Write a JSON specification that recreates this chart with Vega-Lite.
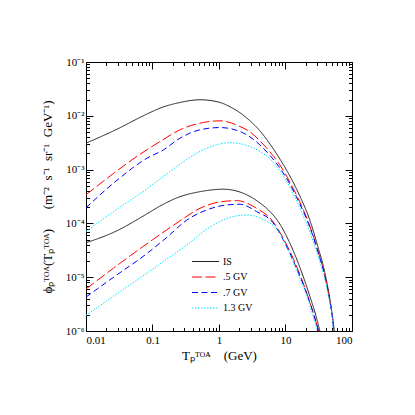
{
  "$schema": "https://vega.github.io/schema/vega-lite/v6.json",
  "width": 266,
  "height": 269,
  "autosize": {"type": "none"},
  "padding": {"left": 86, "top": 62, "right": 63, "bottom": 84},
  "background": "white",
  "view": {"stroke": null},
  "config": {
    "axis": {"domainColor": "black", "tickColor": "black", "labelColor": "black", "titleColor": "black", "labelFont": "Liberation Serif", "titleFont": "Liberation Serif", "labelFontSize": 11, "titleFontSize": 13, "titleFontWeight": "normal", "grid": false, "domainWidth": 1, "tickWidth": 1}
  },
  "data": {"values": [
    {"s": "IS-u", "t": "IS", "x": 0.01, "y": 0.0031},
    {"s": "IS-u", "t": "IS", "x": 0.026, "y": 0.00525},
    {"s": "IS-u", "t": "IS", "x": 0.0822, "y": 0.01076},
    {"s": "IS-u", "t": "IS", "x": 0.1303, "y": 0.0139},
    {"s": "IS-u", "t": "IS", "x": 0.26, "y": 0.0177},
    {"s": "IS-u", "t": "IS", "x": 0.519, "y": 0.01986},
    {"s": "IS-u", "t": "IS", "x": 1.035, "y": 0.0177},
    {"s": "IS-u", "t": "IS", "x": 1.46, "y": 0.01472},
    {"s": "IS-u", "t": "IS", "x": 2.07, "y": 0.01138},
    {"s": "IS-u", "t": "IS", "x": 2.92, "y": 0.00807},
    {"s": "IS-u", "t": "IS", "x": 4.12, "y": 0.00526},
    {"s": "IS-u", "t": "IS", "x": 5.82, "y": 0.00301},
    {"s": "IS-u", "t": "IS", "x": 8.22, "y": 0.00158},
    {"s": "IS-u", "t": "IS", "x": 11.6, "y": 0.000764},
    {"s": "IS-u", "t": "IS", "x": 16.4, "y": 0.000324},
    {"s": "IS-u", "t": "IS", "x": 23.2, "y": 0.0001156},
    {"s": "IS-u", "t": "IS", "x": 30.5, "y": 0.0000379},
    {"s": "IS-u", "t": "IS", "x": 38.9, "y": 0.00001245},
    {"s": "IS-u", "t": "IS", "x": 46.2, "y": 0.00000408},
    {"s": "IS-u", "t": "IS", "x": 51.3, "y": 0.00000173},
    {"s": "IS-u", "t": "IS", "x": 54.1, "y": 0.000001},

    {"s": "R-u", "t": ".5 GV", "x": 0.01, "y": 0.000339},
    {"s": "R-u", "t": ".5 GV", "x": 0.026, "y": 0.000851},
    {"s": "R-u", "t": ".5 GV", "x": 0.0822, "y": 0.00234},
    {"s": "R-u", "t": ".5 GV", "x": 0.1303, "y": 0.00333},
    {"s": "R-u", "t": ".5 GV", "x": 0.26, "y": 0.0055},
    {"s": "R-u", "t": ".5 GV", "x": 0.519, "y": 0.00731},
    {"s": "R-u", "t": ".5 GV", "x": 1.035, "y": 0.00807},
    {"s": "R-u", "t": ".5 GV", "x": 2.07, "y": 0.00632},
    {"s": "R-u", "t": ".5 GV", "x": 2.92, "y": 0.00504},
    {"s": "R-u", "t": ".5 GV", "x": 4.12, "y": 0.00342},
    {"s": "R-u", "t": ".5 GV", "x": 5.82, "y": 0.00214},
    {"s": "R-u", "t": ".5 GV", "x": 8.22, "y": 0.001225},
    {"s": "R-u", "t": ".5 GV", "x": 11.6, "y": 0.00059},
    {"s": "R-u", "t": ".5 GV", "x": 16.4, "y": 0.000251},
    {"s": "R-u", "t": ".5 GV", "x": 23.2, "y": 0.0000895},
    {"s": "R-u", "t": ".5 GV", "x": 30.5, "y": 0.000032},
    {"s": "R-u", "t": ".5 GV", "x": 38.9, "y": 0.00001094},
    {"s": "R-u", "t": ".5 GV", "x": 46.2, "y": 0.00000375},
    {"s": "R-u", "t": ".5 GV", "x": 51.3, "y": 0.00000159},
    {"s": "R-u", "t": ".5 GV", "x": 53.1, "y": 0.000001},

    {"s": "B-u", "t": ".7 GV", "x": 0.01, "y": 0.000195},
    {"s": "B-u", "t": ".7 GV", "x": 0.026, "y": 0.000562},
    {"s": "B-u", "t": ".7 GV", "x": 0.0822, "y": 0.00162},
    {"s": "B-u", "t": ".7 GV", "x": 0.1462, "y": 0.00233},
    {"s": "B-u", "t": ".7 GV", "x": 0.26, "y": 0.00385},
    {"s": "B-u", "t": ".7 GV", "x": 0.519, "y": 0.0055},
    {"s": "B-u", "t": ".7 GV", "x": 1.035, "y": 0.00605},
    {"s": "B-u", "t": ".7 GV", "x": 2.07, "y": 0.0051},
    {"s": "B-u", "t": ".7 GV", "x": 2.92, "y": 0.00406},
    {"s": "B-u", "t": ".7 GV", "x": 4.12, "y": 0.00288},
    {"s": "B-u", "t": ".7 GV", "x": 5.82, "y": 0.001837},
    {"s": "B-u", "t": ".7 GV", "x": 8.22, "y": 0.001076},
    {"s": "B-u", "t": ".7 GV", "x": 11.6, "y": 0.000542},
    {"s": "B-u", "t": ".7 GV", "x": 16.4, "y": 0.00023},
    {"s": "B-u", "t": ".7 GV", "x": 23.2, "y": 0.0000857},
    {"s": "B-u", "t": ".7 GV", "x": 30.5, "y": 0.0000306},
    {"s": "B-u", "t": ".7 GV", "x": 38.9, "y": 0.0000107},
    {"s": "B-u", "t": ".7 GV", "x": 46.2, "y": 0.00000375},
    {"s": "B-u", "t": ".7 GV", "x": 51.3, "y": 0.00000159},
    {"s": "B-u", "t": ".7 GV", "x": 53.1, "y": 0.000001},

    {"s": "C-u", "t": "1.3 GV", "x": 0.01, "y": 0.0000708},
    {"s": "C-u", "t": "1.3 GV", "x": 0.026, "y": 0.000166},
    {"s": "C-u", "t": "1.3 GV", "x": 0.0822, "y": 0.000437},
    {"s": "C-u", "t": "1.3 GV", "x": 0.164, "y": 0.000832},
    {"s": "C-u", "t": "1.3 GV", "x": 0.26, "y": 0.00126},
    {"s": "C-u", "t": "1.3 GV", "x": 0.367, "y": 0.0017},
    {"s": "C-u", "t": "1.3 GV", "x": 0.733, "y": 0.00263},
    {"s": "C-u", "t": "1.3 GV", "x": 1.46, "y": 0.00316},
    {"s": "C-u", "t": "1.3 GV", "x": 2.92, "y": 0.00269},
    {"s": "C-u", "t": "1.3 GV", "x": 4.12, "y": 0.00218},
    {"s": "C-u", "t": "1.3 GV", "x": 5.82, "y": 0.00158},
    {"s": "C-u", "t": "1.3 GV", "x": 8.22, "y": 0.000946},
    {"s": "C-u", "t": "1.3 GV", "x": 11.6, "y": 0.000476},
    {"s": "C-u", "t": "1.3 GV", "x": 16.4, "y": 0.000194},
    {"s": "C-u", "t": "1.3 GV", "x": 23.2, "y": 0.0000692},
    {"s": "C-u", "t": "1.3 GV", "x": 30.5, "y": 0.0000258},
    {"s": "C-u", "t": "1.3 GV", "x": 38.9, "y": 0.00000923},
    {"s": "C-u", "t": "1.3 GV", "x": 46.2, "y": 0.00000344},
    {"s": "C-u", "t": "1.3 GV", "x": 51.3, "y": 0.00000152},
    {"s": "C-u", "t": "1.3 GV", "x": 52.2, "y": 0.000001},

    {"s": "IS-l", "t": "IS", "x": 0.01, "y": 0.0000437},
    {"s": "IS-l", "t": "IS", "x": 0.026, "y": 0.0000682},
    {"s": "IS-l", "t": "IS", "x": 0.0822, "y": 0.00015},
    {"s": "IS-l", "t": "IS", "x": 0.1303, "y": 0.000211},
    {"s": "IS-l", "t": "IS", "x": 0.26, "y": 0.000314},
    {"s": "IS-l", "t": "IS", "x": 0.519, "y": 0.000389},
    {"s": "IS-l", "t": "IS", "x": 1.16, "y": 0.000432},
    {"s": "IS-l", "t": "IS", "x": 2.32, "y": 0.000363},
    {"s": "IS-l", "t": "IS", "x": 4.12, "y": 0.00024},
    {"s": "IS-l", "t": "IS", "x": 5.82, "y": 0.000167},
    {"s": "IS-l", "t": "IS", "x": 8.22, "y": 0.0000975},
    {"s": "IS-l", "t": "IS", "x": 11.6, "y": 0.0000432},
    {"s": "IS-l", "t": "IS", "x": 16.4, "y": 0.0000154},
    {"s": "IS-l", "t": "IS", "x": 23.2, "y": 0.00000445},
    {"s": "IS-l", "t": "IS", "x": 28.5, "y": 0.00000197},
    {"s": "IS-l", "t": "IS", "x": 32.9, "y": 0.000001},

    {"s": "R-l", "t": ".5 GV", "x": 0.01, "y": 0.00000603},
    {"s": "R-l", "t": ".5 GV", "x": 0.026, "y": 0.0000148},
    {"s": "R-l", "t": ".5 GV", "x": 0.0822, "y": 0.0000417},
    {"s": "R-l", "t": ".5 GV", "x": 0.164, "y": 0.0000759},
    {"s": "R-l", "t": ".5 GV", "x": 0.26, "y": 0.000112},
    {"s": "R-l", "t": ".5 GV", "x": 0.519, "y": 0.000191},
    {"s": "R-l", "t": ".5 GV", "x": 1.035, "y": 0.000251},
    {"s": "R-l", "t": ".5 GV", "x": 1.84, "y": 0.000265},
    {"s": "R-l", "t": ".5 GV", "x": 3.67, "y": 0.000191},
    {"s": "R-l", "t": ".5 GV", "x": 6.53, "y": 0.000107},
    {"s": "R-l", "t": ".5 GV", "x": 8.71, "y": 0.0000603},
    {"s": "R-l", "t": ".5 GV", "x": 13.8, "y": 0.0000191},
    {"s": "R-l", "t": ".5 GV", "x": 21.9, "y": 0.00000427},
    {"s": "R-l", "t": ".5 GV", "x": 31.6, "y": 0.000001},

    {"s": "B-l", "t": ".7 GV", "x": 0.01, "y": 0.00000427},
    {"s": "B-l", "t": ".7 GV", "x": 0.026, "y": 0.00001},
    {"s": "B-l", "t": ".7 GV", "x": 0.0822, "y": 0.0000275},
    {"s": "B-l", "t": ".7 GV", "x": 0.164, "y": 0.000055},
    {"s": "B-l", "t": ".7 GV", "x": 0.327, "y": 0.000115},
    {"s": "B-l", "t": ".7 GV", "x": 0.653, "y": 0.000178},
    {"s": "B-l", "t": ".7 GV", "x": 1.30, "y": 0.00022},
    {"s": "B-l", "t": ".7 GV", "x": 2.07, "y": 0.000227},
    {"s": "B-l", "t": ".7 GV", "x": 3.67, "y": 0.000166},
    {"s": "B-l", "t": ".7 GV", "x": 6.53, "y": 0.000102},
    {"s": "B-l", "t": ".7 GV", "x": 8.71, "y": 0.000057},
    {"s": "B-l", "t": ".7 GV", "x": 13.8, "y": 0.0000174},
    {"s": "B-l", "t": ".7 GV", "x": 21.9, "y": 0.00000417},
    {"s": "B-l", "t": ".7 GV", "x": 31.6, "y": 0.000001},

    {"s": "C-l", "t": "1.3 GV", "x": 0.01, "y": 0.00000195},
    {"s": "C-l", "t": "1.3 GV", "x": 0.026, "y": 0.00000445},
    {"s": "C-l", "t": "1.3 GV", "x": 0.0822, "y": 0.0000119},
    {"s": "C-l", "t": "1.3 GV", "x": 0.164, "y": 0.0000217},
    {"s": "C-l", "t": "1.3 GV", "x": 0.327, "y": 0.0000396},
    {"s": "C-l", "t": "1.3 GV", "x": 0.733, "y": 0.0000857},
    {"s": "C-l", "t": "1.3 GV", "x": 1.46, "y": 0.000129},
    {"s": "C-l", "t": "1.3 GV", "x": 2.60, "y": 0.000143},
    {"s": "C-l", "t": "1.3 GV", "x": 4.62, "y": 0.000118},
    {"s": "C-l", "t": "1.3 GV", "x": 7.76, "y": 0.0000721},
    {"s": "C-l", "t": "1.3 GV", "x": 13.8, "y": 0.0000161},
    {"s": "C-l", "t": "1.3 GV", "x": 21.9, "y": 0.00000372},
    {"s": "C-l", "t": "1.3 GV", "x": 30.2, "y": 0.000001}
  ]},
  "layer": [
    {
      "mark": {"type": "line", "strokeWidth": 1, "clip": true, "interpolate": "monotone"},
      "encoding": {
        "x": {"field": "x", "type": "quantitative",
          "scale": {"type": "log", "domain": [0.01, 100], "nice": false},
          "axis": {"orient": "bottom", "values": [0.01, 0.1, 1, 10, 100], "tickSize": -7, "labelPadding": 10, "labelExpr": "'' + datum.value", "title": "Tₚᵀᴼᴬ\u2003(GeV)", "titlePadding": 4}},
        "y": {"field": "y", "type": "quantitative",
          "scale": {"type": "log", "domain": [0.000001, 0.1], "nice": false},
          "axis": {"orient": "left", "values": [0.000001, 0.00001, 0.0001, 0.001, 0.01, 0.1], "tickSize": -7, "labelPadding": 9, "labelExpr": "'10' + ['⁰','⁻¹','⁻²','⁻³','⁻⁴','⁻⁵','⁻⁶'][-round(log(datum.value)/LN10)]", "title": "ϕₚᵀᴼᴬ(Tₚᵀᴼᴬ)\u2003\u2002(m⁻²\u2002s⁻¹\u2002sr⁻¹\u2002GeV⁻¹)", "titlePadding": 11}},
        "detail": {"field": "s"},
        "color": {"field": "t", "type": "nominal",
          "scale": {"domain": ["IS", ".5 GV", ".7 GV", "1.3 GV"], "range": ["#222222", "#ff0000", "#0000ff", "#00e5ff"]},
          "legend": {"orient": "none", "legendX": 112, "legendY": 192, "title": null, "symbolType": "M-2,0H2", "symbolSize": 182, "symbolStrokeWidth": 1, "labelFont": "Liberation Serif", "labelFontSize": 10, "labelColor": "black", "rowPadding": 2.5, "labelOffset": 10}},
        "strokeDash": {"field": "t", "type": "nominal",
          "scale": {"domain": ["IS", ".5 GV", ".7 GV", "1.3 GV"], "range": [[1, 0], [10, 3.5], [6, 3.5], [1.5, 1.5]]},
          "legend": {"orient": "none", "legendX": 112, "legendY": 192, "title": null, "symbolType": "M-2,0H2", "symbolSize": 182, "symbolStrokeWidth": 1, "labelFont": "Liberation Serif", "labelFontSize": 10, "labelColor": "black", "rowPadding": 2.5, "labelOffset": 10}}
      }
    },
    {
      "mark": {"type": "point", "opacity": 0},
      "encoding": {
        "x": {"field": "x", "type": "quantitative", "scale": {"type": "log", "domain": [0.01, 100], "nice": false},
          "axis": {"orient": "bottom", "values": [0.02,0.03,0.04,0.05,0.06,0.07,0.08,0.09,0.2,0.3,0.4,0.5,0.6,0.7,0.8,0.9,2,3,4,5,6,7,8,9,20,30,40,50,60,70,80,90], "tickSize": -3.5, "labels": false, "domain": false, "title": null}},
        "y": {"field": "y", "type": "quantitative", "scale": {"type": "log", "domain": [0.000001, 0.1], "nice": false},
          "axis": {"orient": "left", "values": [2e-6,3e-6,4e-6,5e-6,6e-6,7e-6,8e-6,9e-6,2e-5,3e-5,4e-5,5e-5,6e-5,7e-5,8e-5,9e-5,2e-4,3e-4,4e-4,5e-4,6e-4,7e-4,8e-4,9e-4,0.002,0.003,0.004,0.005,0.006,0.007,0.008,0.009,0.02,0.03,0.04,0.05,0.06,0.07,0.08,0.09], "tickSize": -3.5, "labels": false, "domain": false, "title": null}}
      }
    },
    {
      "mark": {"type": "point", "opacity": 0},
      "encoding": {
        "x": {"field": "x", "type": "quantitative", "scale": {"type": "log", "domain": [0.01, 100], "nice": false},
          "axis": {"orient": "top", "values": [0.01, 0.1, 1, 10, 100], "tickSize": -7, "labels": false, "title": null}},
        "y": {"field": "y", "type": "quantitative", "scale": {"type": "log", "domain": [0.000001, 0.1], "nice": false},
          "axis": {"orient": "right", "values": [0.000001, 0.00001, 0.0001, 0.001, 0.01, 0.1], "tickSize": -7, "labels": false, "title": null}}
      }
    },
    {
      "mark": {"type": "point", "opacity": 0},
      "encoding": {
        "x": {"field": "x", "type": "quantitative", "scale": {"type": "log", "domain": [0.01, 100], "nice": false},
          "axis": {"orient": "top", "values": [0.02,0.03,0.04,0.05,0.06,0.07,0.08,0.09,0.2,0.3,0.4,0.5,0.6,0.7,0.8,0.9,2,3,4,5,6,7,8,9,20,30,40,50,60,70,80,90], "tickSize": -3.5, "labels": false, "domain": false, "title": null}},
        "y": {"field": "y", "type": "quantitative", "scale": {"type": "log", "domain": [0.000001, 0.1], "nice": false},
          "axis": {"orient": "right", "values": [2e-6,3e-6,4e-6,5e-6,6e-6,7e-6,8e-6,9e-6,2e-5,3e-5,4e-5,5e-5,6e-5,7e-5,8e-5,9e-5,2e-4,3e-4,4e-4,5e-4,6e-4,7e-4,8e-4,9e-4,0.002,0.003,0.004,0.005,0.006,0.007,0.008,0.009,0.02,0.03,0.04,0.05,0.06,0.07,0.08,0.09], "tickSize": -3.5, "labels": false, "domain": false, "title": null}}
      }
    }
  ],
  "resolve": {"axis": {"x": "independent", "y": "independent"}}
}
